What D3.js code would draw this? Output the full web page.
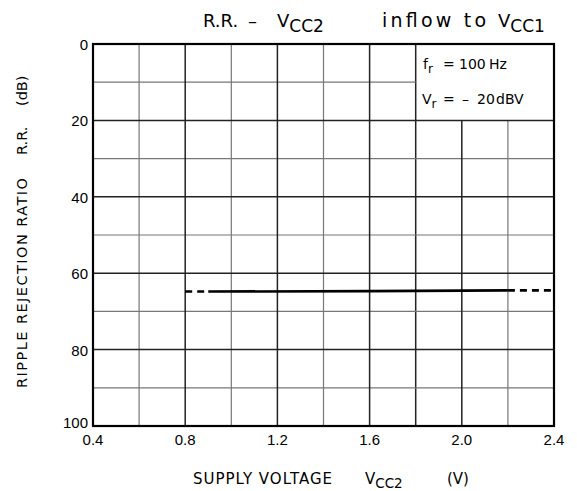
<!DOCTYPE html>
<html>
<head>
<meta charset="utf-8">
<script src="https://cdn.jsdelivr.net/npm/d3@7"></script>
<style>
  body { margin: 0; background: #fff; }
  text { fill: #000; white-space: pre; }
</style>
</head>
<body>
<script>
// Data
const xTicks = [0.4, 0.8, 1.2, 1.6, 2.0, 2.4];
const yTicks = [0, 20, 40, 60, 80, 100];
const xMinor = [0.6, 1.0, 1.4, 1.8, 2.2];
const yMinor = [10, 30, 50, 70, 90];
const voltage = [0.8, 0.9, 1.6, 2.2, 2.4];
const rippleRR = [64.8, 64.8, 64.7, 64.5, 64.5];
const lineStyle = ["dash", "solid", "solid", "dash"]; // style of segment i -> i+1

const margin = { top: 44, right: 23, bottom: 65, left: 93 };
const width = 577 - margin.left - margin.right;
const height = 491 - margin.top - margin.bottom;

const svg = d3.select("body").append("svg")
    .attr("width", 577)
    .attr("height", 491);

const g = svg.append("g")
    .attr("transform", "translate(" + margin.left + "," + margin.top + ")");

const x = d3.scaleLinear().domain([0.4, 2.4]).range([0, width]);
const y = d3.scaleLinear().domain([0, 100]).range([0, height]);

// legend box sits in the corner: x >= 1.8, y <= 20
const boxX = 1.8, boxY = 20;

// minor grid
xMinor.forEach(v => {
    g.append("line")
        .attr("x1", x(v)).attr("x2", x(v))
        .attr("y1", v > boxX ? y(boxY) : 0).attr("y2", height)
        .attr("stroke", v === boxX ? "#222" : "#777")
        .attr("stroke-width", v === boxX ? 1.5 : 1.2);
});
yMinor.forEach(v => {
    g.append("line")
        .attr("x1", 0).attr("x2", v < boxY ? x(boxX) : width)
        .attr("y1", y(v)).attr("y2", y(v))
        .attr("stroke", "#777")
        .attr("stroke-width", 1.2);
});
// major grid
xTicks.slice(1, -1).forEach(v => {
    g.append("line")
        .attr("x1", x(v)).attr("x2", x(v))
        .attr("y1", v > boxX ? y(boxY) : 0).attr("y2", height)
        .attr("stroke", "#222")
        .attr("stroke-width", 1.5);
});
yTicks.slice(1, -1).forEach(v => {
    g.append("line")
        .attr("x1", 0).attr("x2", width)
        .attr("y1", y(v)).attr("y2", y(v))
        .attr("stroke", "#222")
        .attr("stroke-width", 1.5);
});

// frame
g.append("rect")
    .attr("x", 0).attr("y", 0)
    .attr("width", width).attr("height", height)
    .attr("fill", "none")
    .attr("stroke", "#000")
    .attr("stroke-width", 2.2);

// curve
const line = d3.line().x(d => x(d[0])).y(d => y(d[1]));
for (let i = 0; i < voltage.length - 1; i++) {
    g.append("path")
        .attr("d", line([[voltage[i], rippleRR[i]], [voltage[i + 1], rippleRR[i + 1]]]))
        .attr("fill", "none")
        .attr("stroke", "#000")
        .attr("stroke-width", 2.6)
        .attr("stroke-dasharray", lineStyle[i] === "dash" ? "7,5" : null);
}

// tick labels
const tickFont = "'Liberation Sans', Arial, sans-serif";
g.selectAll(".ylab").data(yTicks).enter().append("text")
    .attr("x", -5)
    .attr("y", d => y(d) + (d === 100 ? 2 : 6))
    .attr("text-anchor", "end")
    .style("font-family", tickFont)
    .style("font-size", "15px")
    .text(d => d);
g.selectAll(".xlab").data(xTicks).enter().append("text")
    .attr("x", d => x(d))
    .attr("y", height + 19)
    .attr("text-anchor", "middle")
    .style("font-family", tickFont)
    .style("font-size", "15px")
    .text(d => d.toFixed(1));

const labFont = "'DejaVu Sans', sans-serif";

// helper: text made of pieces [string, x, dy, size, length]
function pieces(parent, px, py, size, parts) {
    const t = parent.append("text")
        .attr("x", px).attr("y", py)
        .style("font-family", labFont)
        .style("font-size", size + "px");
    parts.forEach(p => {
        const s = t.append("tspan").text(p[0]);
        if (p[1] != null) s.attr("x", p[1]);
        if (p[2]) s.attr("dy", p[2]);
        if (p[3]) s.style("font-size", p[3] + "px");
        if (p[4]) s.attr("textLength", p[4]).attr("lengthAdjust", "spacing");
    });
    return t;
}

// title
pieces(svg, 203, 27, 18, [
    ["R.R.", 203], ["\u2013", 248], ["V", 277], ["CC2", null, 5, 17],
    ["inflow to", 382, -5, 19, 104], ["V", 498], ["CC1", null, 5, 17]
]);

// legend text inside box
pieces(svg, 423, 69, 14, [
    ["f", 423], ["r", null, 4, 12], ["=", 443, -4], ["100", 459], ["Hz", 489]
]);
pieces(svg, 423, 104, 14, [
    ["V", 422], ["r", null, 4, 12], ["=", 443, -4], ["\u2013", 462, null, null, 11], ["20", 477], ["dBV", 496]
]);

// x axis title
pieces(svg, 193, 484, 15, [
    ["SUPPLY VOLTAGE", 193, null, null, 139], ["V", 365], ["CC2", null, 4, 13.5], ["(V)", 447, -4]
]);

// y axis title
const yt = svg.append("g").attr("transform", "translate(27,0) rotate(-90)");
pieces(yt, -388, 0, 14.5, [
    ["RIPPLE REJECTION RATIO", -388, null, null, 210], ["R.R.", -155], ["(dB)", -106]
]);
</script>
</body>
</html>
